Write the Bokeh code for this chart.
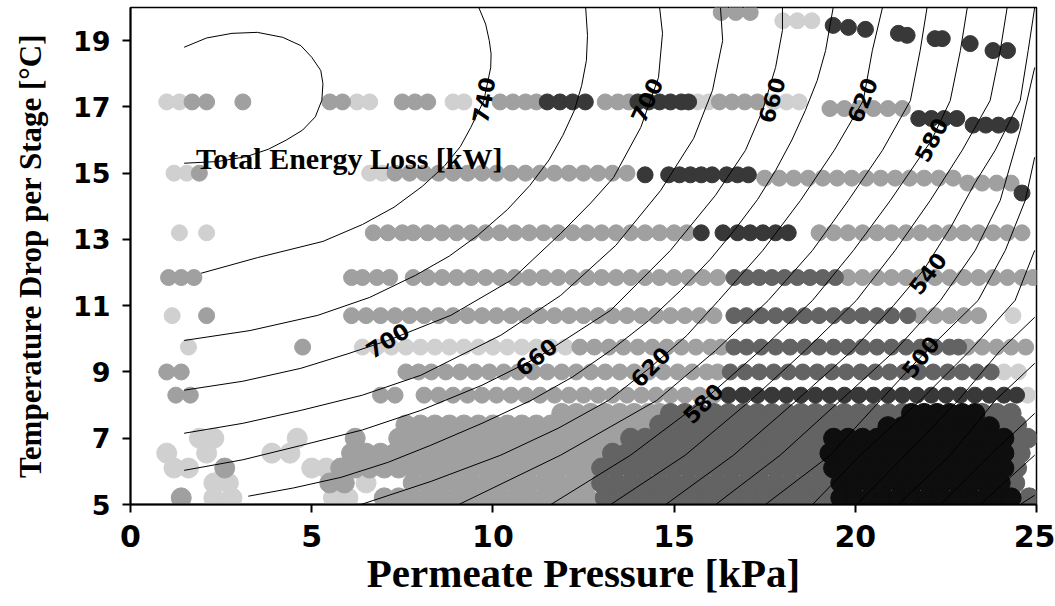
from bokeh.plotting import figure
from bokeh.models import Range1d, FixedTicker
from bokeh.embed import file_html
from bokeh.resources import INLINE
from bokeh.core.properties import value
import math

# ---------------- data ----------------
x_ticks = [0, 5, 10, 15, 20, 25]
y_ticks = [5, 7, 9, 11, 13, 15, 17, 19]

# scatter rows: (y, [x values])
light_rows = [
    (19.6, [18.0, 18.4, 18.8]),
    (17.15, [1.0, 1.35, 6.25, 6.6, 8.9, 9.2, 15.65, 15.95, 17.75, 18.1, 18.45]),
    (15.0, [1.2, 1.55, 6.6, 6.95]),
    (13.2, [1.35, 2.1]),
    (10.7, [1.15, 24.35]),
    (9.75, [1.6, 6.4, 6.8, 7.2, 7.6, 8.0, 8.4, 8.8, 9.2, 9.6, 10.0, 10.4, 10.8, 11.2, 11.6, 12.0]),
    (9.0, [24.1, 24.5]),
    (8.3, [24.75]),
    (7.0, [1.9, 2.3, 4.6]),
    (6.55, [1.0, 2.1, 3.9, 4.4]),
    (6.1, [1.2, 1.6, 5.0, 5.4]),
    (5.65, [2.3, 2.7, 6.5]),
    (5.2, [2.3, 2.8, 5.6, 6.0]),
]
grey_rows = [
    (19.85, [16.3, 16.7, 17.1]),
    (17.15, [1.7, 2.1, 3.1, 5.5, 5.85, 7.5, 7.85, 8.2, 10.2, 10.55, 10.9, 11.2, 13.1, 13.45, 13.75,
             16.25, 16.6, 16.95, 17.3]),
    (16.95, [19.3, 19.7, 20.1, 20.5, 20.9, 21.3]),
    (15.0, [1.9, 7.3, 7.7, 8.1, 8.5, 8.9, 9.3, 9.7, 10.1, 10.5, 10.9, 11.3, 11.7, 12.1, 12.5, 12.9,
            13.3, 13.7]),
    (14.85, [17.5, 17.9, 18.3, 18.7, 19.1, 19.5, 19.9, 20.3, 20.7, 21.1, 21.5, 21.9, 22.3, 22.7]),
    (14.7, [23.1, 23.5, 23.9, 24.3]),
    (13.2, [6.7, 7.1, 7.5, 7.8, 8.2, 8.6, 9.0, 9.4, 9.8, 10.2, 10.6, 11.0, 11.4, 11.8, 12.2, 12.6,
            13.0, 13.4, 13.8, 14.2, 14.6, 15.0, 15.35, 19.0, 19.4, 19.8, 20.2, 20.6, 21.0, 21.4,
            21.8, 22.2, 22.6, 23.0, 23.4, 23.8, 24.2, 24.6]),
    (11.85, [1.05, 1.4, 1.75, 6.1, 6.4, 6.8, 7.15, 7.8, 8.2, 8.6, 9.0, 9.4, 9.8, 10.2, 10.6, 11.0,
             11.4, 11.8, 12.2, 12.6, 13.0, 13.4, 13.8, 14.2, 14.6, 15.0, 15.4, 15.8, 16.2, 19.8,
             20.2, 20.6, 21.0, 21.4, 21.8, 22.2, 22.6, 23.0, 23.4, 23.8, 24.2, 24.6, 24.9]),
    (10.7, [2.1, 6.1, 6.5, 6.9, 7.3, 7.7, 8.1, 8.5, 8.9, 9.3, 9.7, 10.1, 10.5, 10.9, 11.3, 11.7,
            12.1, 12.5, 12.9, 13.3, 13.7, 14.1, 14.5, 14.9, 15.3, 15.7, 16.1, 21.8, 22.2, 22.6,
            23.0, 23.4]),
    (9.75, [4.75, 12.4, 12.8, 13.2, 13.6, 14.0, 14.4, 14.8, 15.2, 15.6, 16.0, 16.3, 23.1, 23.5,
            23.9, 24.3, 24.7]),
    (9.0, [1.0, 1.4, 7.6, 7.95, 8.3, 8.7, 9.1, 9.5, 9.9, 10.3, 10.7, 11.1, 11.5, 11.9, 12.3, 12.7,
           13.1, 13.5, 13.9, 14.3, 14.7, 15.1, 15.5, 15.9, 16.2]),
    (8.3, [1.25, 1.65, 6.9, 7.3, 8.1, 8.5, 8.9, 9.3, 9.7, 10.1, 10.5, 10.9, 11.3, 11.7, 12.1, 12.5,
           12.9, 13.3, 13.7, 14.1, 14.5, 14.9, 15.3, 15.7, 16.1]),
    (7.75, [11.9, 12.3, 12.7, 13.1, 13.5, 13.9, 14.3, 14.6]),
    (7.4, [7.6, 8.0, 8.4, 8.8, 9.2, 9.6, 10.0, 10.4, 10.8, 11.2, 11.6, 12.0, 12.4, 12.8, 13.2, 13.6,
           14.0, 14.3]),
    (7.0, [6.2, 7.4, 7.8, 8.2, 8.6, 9.0, 9.4, 9.8, 10.2, 10.6, 11.0, 11.4, 11.8, 12.2, 12.6, 13.0,
           13.4]),
    (6.55, [6.1, 6.5, 6.9, 7.3, 7.7, 8.1, 8.5, 8.9, 9.3, 9.7, 10.1, 10.5, 10.9, 11.3, 11.7, 12.1,
            12.5, 12.9]),
    (6.1, [2.6, 5.8, 6.2, 6.6, 7.0, 7.4, 7.8, 8.2, 8.6, 9.0, 9.4, 9.8, 10.2, 10.6, 11.0, 11.4,
           11.8, 12.2, 12.6]),
    (5.65, [5.5, 5.9, 7.8, 8.2, 8.6, 9.0, 9.4, 9.8, 10.2, 10.6, 11.0, 11.4, 11.8, 12.2, 12.6]),
    (5.2, [1.4, 7.0, 7.4, 7.8, 8.2, 8.6, 9.0, 9.4, 9.8, 10.2, 10.6, 11.0, 11.4, 11.8, 12.2, 12.6]),
]
mid_rows = [
    (11.85, [16.65, 17.0, 17.35, 17.7, 18.05, 18.4, 18.75, 19.1, 19.45]),
    (10.7, [16.65, 17.0, 17.4, 17.8, 18.2, 18.6, 19.0, 19.4, 19.8, 20.2, 20.6, 21.0, 21.45]),
    (9.75, [16.65, 17.0, 17.4, 17.8, 18.2, 18.6, 19.0, 19.4, 19.8, 20.2, 20.6, 21.0, 21.4, 21.8,
            22.2, 22.6, 22.85]),
    (9.0, [16.55, 16.95, 17.35, 17.75, 18.15, 18.55, 18.95, 19.35, 19.75, 20.15, 20.55, 20.95,
           21.35, 21.75, 22.15, 22.55, 22.95, 23.35, 23.75]),
    (7.75, [14.9, 15.3, 15.7, 16.1, 16.5, 16.9, 17.3, 17.7, 18.1, 18.5, 18.9, 19.3, 19.7, 20.1,
            20.5, 20.9, 21.3, 23.5, 23.9, 24.3]),
    (7.4, [14.6, 15.0, 15.4, 15.8, 16.2, 16.6, 17.0, 17.4, 17.8, 18.2, 18.6, 19.0, 19.4, 19.8,
           20.2, 20.6, 24.1, 24.45]),
    (7.0, [13.8, 14.2, 14.6, 15.0, 15.4, 15.8, 16.2, 16.6, 17.0, 17.4, 17.8, 18.2, 18.6, 19.0,
           24.4, 24.75]),
    (6.55, [13.3, 13.7, 14.1, 14.5, 14.9, 15.3, 15.7, 16.1, 16.5, 16.9, 17.3, 17.7, 18.1, 18.5,
            18.9, 24.55]),
    (6.1, [13.0, 13.4, 13.8, 14.2, 14.6, 15.0, 15.4, 15.8, 16.2, 16.6, 17.0, 17.4, 17.8, 18.2,
           18.6, 19.0, 24.45]),
    (5.65, [13.0, 13.4, 13.8, 14.2, 14.6, 15.0, 15.4, 15.8, 16.2, 16.6, 17.0, 17.4, 17.8, 18.2,
            18.6, 19.0, 19.3, 24.4]),
    (5.2, [13.1, 13.5, 13.9, 14.3, 14.7, 15.1, 15.5, 15.9, 16.3, 16.7, 17.1, 17.5, 17.9, 18.3,
           18.7, 19.1, 19.4, 24.8]),
]
dark_rows = [
    (17.15, [11.5, 11.85, 12.2, 12.55, 14.0, 14.3, 14.6, 14.9, 15.2, 15.4]),
    (16.65, [21.75, 22.1, 22.45, 22.8]),
    (16.45, [23.25, 23.6, 23.95, 24.3]),
    (14.95, [14.2, 14.85, 15.15, 15.45, 15.75, 16.05, 16.45, 16.75, 17.05]),
    (14.4, [24.6]),
    (13.2, [15.75, 16.35, 16.75, 17.1, 17.45, 17.8, 18.15]),
    (8.3, [16.5, 16.9, 17.3, 17.7, 18.1, 18.5, 18.9, 19.3, 19.7, 20.1, 20.5, 20.9, 21.3, 21.7,
           22.1, 22.5, 22.9, 23.3, 23.7, 24.1, 24.45]),
]
dark_top_x = [19.39, 19.81, 20.28, 21.19, 21.43, 22.2, 22.4, 23.17, 23.8, 24.2]
dark_top_y = [19.46, 19.40, 19.34, 19.22, 19.16, 19.06, 19.06, 18.91, 18.70, 18.70]
black_rows = [
    (7.75, [21.55, 21.9, 22.25, 22.6, 22.95, 23.3]),
    (7.35, [20.9, 21.3, 21.7, 22.1, 22.5, 22.9, 23.3, 23.7]),
    (7.0, [19.4, 19.8, 20.2, 20.6, 21.0, 21.4, 21.8, 22.2, 22.6, 23.0, 23.4, 23.8, 24.1]),
    (6.55, [19.3, 19.7, 20.1, 20.5, 20.9, 21.3, 21.7, 22.1, 22.5, 22.9, 23.3, 23.7, 24.1]),
    (6.1, [19.4, 19.8, 20.2, 20.6, 21.0, 21.4, 21.8, 22.2, 22.6, 23.0, 23.4, 23.8, 24.1]),
    (5.65, [19.6, 20.0, 20.4, 20.8, 21.2, 21.6, 22.0, 22.4, 22.8, 23.2, 23.6, 24.0]),
    (5.2, [19.6, 20.0, 20.4, 20.8, 21.2, 21.6, 22.0, 22.4, 22.8, 23.2, 23.6, 24.0, 24.3]),
]

# contour lines of total energy loss [kW], read as polylines
contour_levels = [760, 740, 720, 700, 680, 660, 640, 620, 600, 580, 560, 540, 520, 500,
                  480, 460, 440, 420, 400, 380]
contour_xs = [
    [1.48, 2.1, 2.8, 3.5, 4.2, 4.7, 5.0, 5.25, 5.31, 5.28, 5.1, 4.75, 4.3, 3.8, 3.2, 2.4, 1.48],
    [1.95, 3.5, 5.31, 6.4, 7.27, 8.05, 8.65, 9.1, 9.39, 9.75, 9.94, 9.95, 9.9, 9.8, 9.61],
    [1.48, 3.3, 5.17, 6.6, 7.87, 8.8, 9.58, 10.4, 11.02, 11.55, 11.93, 12.25, 12.45, 12.58, 12.61, 12.56],
    [1.48, 3.1, 4.70, 6.0, 7.10, 8.84, 10.49, 11.87, 12.7, 13.33, 14.08, 14.57, 14.68, 14.60],
    [1.48, 3.1, 4.70, 6.4, 8.01, 10.22, 11.87, 13.39, 14.63, 15.54, 16.06, 16.34, 16.28],
    [1.48, 3.1, 4.70, 6.4, 8.01, 9.7, 11.24, 13.25, 14.90, 16.14, 16.97, 17.44, 17.80, 17.99, 17.99],
    [3.25, 4.5, 5.81, 7.1, 8.29, 9.7, 11.05, 12.2, 13.25, 14.3, 15.18, 16.0, 16.70, 17.30, 17.80,
     18.25, 18.62, 18.95, 19.18, 19.39],
    [6.36, 8.3, 10.22, 11.8, 13.19, 14.35, 15.35, 16.23, 17.45, 18.49, 19.42, 20.22, 20.47, 20.75],
    [9.06, 11.87, 14.52, 16.15, 17.60, 18.82, 19.81, 20.75, 21.52, 21.79, 21.98],
    [11.6, 13.8, 15.81, 17.38, 18.82, 19.95, 20.97, 22.10, 22.62, 22.9, 23.09],
    [13.25, 15.31, 17.11, 18.62, 20.03, 21.1, 22.07, 22.95, 23.72, 24.0, 24.19],
    [14.77, 16.64, 18.38, 19.92, 21.05, 21.9, 22.65, 23.3, 23.86, 24.55, 24.77, 24.95],
    [16.15, 17.93, 19.59, 21.1, 22.35, 23.31, 24.0, 24.55, 24.95],
    [17.52, 19.31, 20.69, 21.79, 23.39, 24.14, 24.69, 24.95],
    [18.82, 20.14, 21.79, 23.17, 24.41, 24.95],
    [20.03, 21.38, 22.84, 24.0, 24.95],
    [21.19, 22.62, 23.86, 24.95],
    [22.35, 23.72, 24.95],
    [23.45, 24.95],
    [24.55, 24.95],
]
contour_ys = [
    [18.8, 19.08, 19.22, 19.25, 19.1, 18.85, 18.5, 18.1, 17.7, 17.2, 16.7, 16.3, 16.0, 15.72, 15.5, 15.35, 15.3],
    [11.98, 12.45, 12.94, 13.45, 13.97, 14.6, 15.2, 15.8, 16.38, 17.19, 18.19, 18.6, 19.0, 19.5, 20.0],
    [9.95, 10.25, 10.71, 11.25, 11.92, 12.5, 13.12, 13.9, 14.63, 15.4, 16.14, 16.9, 17.65, 18.4, 19.16, 20.0],
    [8.45, 8.72, 9.11, 9.55, 9.95, 10.71, 11.76, 13.18, 14.1, 14.87, 16.38, 17.89, 19.22, 20.0],
    [7.15, 7.45, 7.84, 8.3, 8.90, 10.11, 11.31, 12.82, 14.48, 16.05, 17.50, 19.00, 20.0],
    [6.03, 6.35, 6.78, 7.25, 7.84, 8.6, 9.44, 10.86, 12.67, 14.33, 15.69, 16.89, 18.19, 19.31, 20.0],
    [5.25, 5.5, 5.82, 6.27, 6.79, 7.45, 8.14, 8.85, 9.65, 10.55, 11.46, 12.4, 13.33, 14.2, 15.08,
     16.0, 16.89, 17.8, 18.70, 20.0],
    [5.0, 5.7, 6.49, 7.3, 8.14, 9.14, 10.1, 11.16, 12.67, 14.18, 15.69, 17.19, 18.70, 20.0],
    [5.0, 6.49, 8.14, 9.65, 11.16, 12.67, 14.18, 15.69, 17.19, 18.70, 20.0],
    [5.0, 6.49, 8.14, 9.65, 11.16, 12.67, 14.18, 15.99, 17.19, 18.70, 20.0],
    [5.0, 6.49, 8.14, 9.65, 11.16, 12.67, 14.18, 15.69, 17.19, 18.70, 20.0],
    [5.0, 6.49, 8.14, 9.65, 11.0, 12.1, 13.4, 14.7, 15.69, 17.19, 18.70, 20.0],
    [5.0, 6.49, 8.14, 9.65, 11.16, 12.67, 14.18, 16.29, 18.19],
    [5.0, 6.49, 8.14, 9.44, 11.16, 12.67, 14.18, 15.48],
    [5.0, 6.49, 8.14, 9.65, 11.16, 12.67],
    [5.0, 6.49, 8.14, 9.65, 10.65],
    [5.0, 6.49, 8.14, 9.26],
    [5.0, 6.49, 7.75],
    [5.0, 6.49],
    [5.0, 5.28],
]

label_text = ["740", "700", "660", "620", "580", "700", "660", "620", "580", "540", "500"]
label_x = [9.75, 14.25, 17.7, 20.2, 22.1, 7.1, 11.2, 14.35, 15.8, 22.0, 21.8]
label_y = [17.2, 17.2, 17.2, 17.2, 16.0, 9.95, 9.45, 9.15, 8.05, 11.97, 9.45]
label_angle_deg = [80, 65, 74, 68, 62, 32, 38, 45, 45, 52, 52]

LIGHT, GREY, MID, DARK, BLACK = "#d0d0d0", "#a0a0a0", "#636363", "#383838", "#0e0e0e"


def flatten(rows):
    xs, ys = [], []
    for yv, xl in rows:
        xs.extend(xl)
        ys.extend([yv] * len(xl))
    return xs, ys


p = figure(width=1055, height=606, x_range=Range1d(0, 25), y_range=Range1d(5, 20),
           output_backend="svg", toolbar_location=None,
           min_border_left=130, min_border_right=19, min_border_top=7, min_border_bottom=102)
p.background_fill_color = "white"
p.border_fill_color = "white"
p.outline_line_color = "black"
p.outline_line_width = 1.5
p.xgrid.visible = False
p.ygrid.visible = False

for rows, col in [(light_rows, LIGHT), (grey_rows, GREY), (mid_rows, MID), (dark_rows, DARK)]:
    xs, ys = flatten(rows)
    sizes = [20 if yv < 7.8 else 16 for yv in ys]
    p.scatter(xs, ys, marker="circle", size=sizes, fill_color=col, line_color=col)
p.scatter(dark_top_x, dark_top_y, marker="circle", size=16, fill_color=DARK, line_color=DARK)
bx, by = flatten(black_rows)
p.scatter(bx, by, marker="circle", size=20, fill_color=BLACK, line_color=BLACK)

p.multi_line(contour_xs, contour_ys, line_color="black", line_width=1)

p.text(label_x, label_y, text=label_text, angle=[math.radians(a) for a in label_angle_deg],
       text_font=value("DejaVu Sans"), text_font_style="bold", text_font_size="22px",
       text_align="center", text_baseline="middle", text_color="black")

p.text([1.81], [15.45], text=["Total Energy Loss [kW]"], text_font=value("Liberation Serif"),
       text_font_style="bold", text_font_size="30px", text_align="left",
       text_baseline="alphabetic", text_color="black")

for ax in (p.xaxis[0], p.yaxis[0]):
    ax.axis_line_width = 2
    ax.axis_line_color = "black"
    ax.major_tick_line_width = 2
    ax.major_tick_line_color = "black"
    ax.major_tick_in = 0
    ax.major_tick_out = 8
    ax.minor_tick_line_color = None
    ax.major_label_text_font = "DejaVu Sans"
    ax.major_label_text_font_style = "bold"
    ax.major_label_text_color = "black"
    ax.axis_label_text_font = "Liberation Serif"
    ax.axis_label_text_font_style = "bold"
    ax.axis_label_text_color = "black"

p.xaxis[0].ticker = FixedTicker(ticks=x_ticks)
p.yaxis[0].ticker = FixedTicker(ticks=y_ticks)
p.xaxis[0].major_label_text_font_size = "30px"
p.yaxis[0].major_label_text_font_size = "27px"
p.xaxis[0].major_label_standoff = 12
p.yaxis[0].major_label_standoff = 12
p.xaxis[0].axis_label = "Permeate Pressure [kPa]"
p.yaxis[0].axis_label = "Temperature Drop per Stage [°C]"
p.xaxis[0].axis_label_text_font_size = "41px"
p.yaxis[0].axis_label_text_font_size = "31px"
p.xaxis[0].axis_label_standoff = 0
p.yaxis[0].axis_label_standoff = 22

open("out.html", "w").write(file_html(p, INLINE))
